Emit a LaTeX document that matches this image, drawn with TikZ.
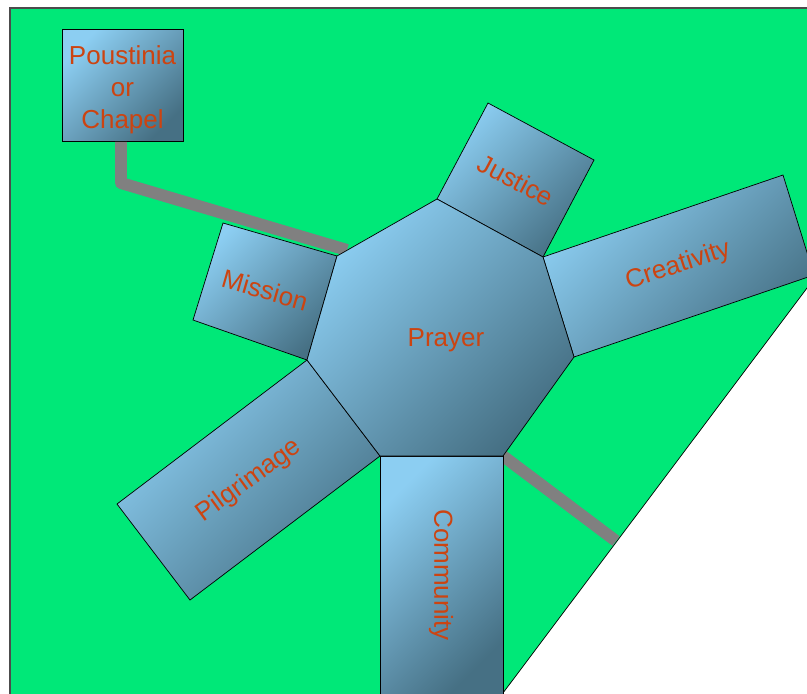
\documentclass[tikz,border=0pt]{standalone}
\usepackage{fontspec}
\setmainfont{Liberation Sans}
\usetikzlibrary{calc}

\definecolor{bggreen}{RGB}{0,232,120}
\definecolor{boxlight}{RGB}{140,206,242}
\definecolor{boxdark}{RGB}{70,112,132}
\definecolor{labelred}{RGB}{204,68,17}
\definecolor{linkgray}{RGB}{128,128,128}

\tikzset{
  panel/.style={draw=black, line width=0.5pt, top color=boxlight,
                bottom color=boxdark, shading angle=45},
  word/.style={text=labelred, font=\fontsize{18.5}{22.7}\selectfont},
  link/.style={draw=linkgray, line width=8.5pt, line join=round},
}

\begin{document}
\begin{tikzpicture}[x=0.025cm, y=-0.025cm]

    \useasboundingbox (0,0) rectangle (807,693);

    \begin{scope}
    \clip (0,0) rectangle (807,693);

    % green page
    \fill[bggreen] (10,8) -- (830,8) -- (830,257.4) -- (482.7,720) -- (10,720) -- cycle;
    \draw[gray!60!black, line width=1.2pt] (10,720) -- (10,8) -- (830,8);
    \draw[black, line width=0.5pt] (830,257.4) -- (482.7,720);

    % corners of the heptagon
    \coordinate (hT)  at (437,199);
    \coordinate (hUR) at (543,257);
    \coordinate (hR)  at (574,357);
    \coordinate (hLR) at (503,456);
    \coordinate (hLL) at (380,456);
    \coordinate (hL)  at (307,360);
    \coordinate (hUL) at (337,256);

    \node[panel, word, align=center, inner sep=0pt,
          minimum width=3.025cm, minimum height=2.8cm] (chapel) at (122.5,85.5)
          {\rule{0pt}{19pt}Poustinia\\or\\Chapel};

    \coordinate (bend)  at (121,183);
    \coordinate (linkA) at (347,250);
    \coordinate (linkB) at (616,541);

    \draw[link] (chapel.south -| bend) -- (bend) -- (linkA);
    \draw[link] (hLR) -- (linkB);

    % arms
    \path[panel] (hT) -- (488,103) -- (594,160) -- (hUR) -- cycle;
    \node[word, rotate=-28] (justice) at (516,180) {Justice};

    \path[panel] (hUR) -- (783,175) -- (814,275) -- (hR) -- cycle;
    \node[word, rotate=18] (creativity) at (678,266) {Creativity};

    \path[panel] (hL) -- (193,320) -- (223,223) -- (hUL) -- cycle;
    \node[word, rotate=-16] (mission) at (265,290) {Mission};

    \path[panel] (hLL) -- (190,600) -- (117,504) -- (hL) -- cycle;
    \node[word, rotate=36] (pilgrimage) at (249,481) {Pilgrimage};

    \path[panel] (hLR) -- (503,694) -- (380,694) -- (hLL) -- cycle;
    \node[word, rotate=-90] (community) at (441,575) {Community};

    % centre
    \path[panel] (hT) -- (hUR) -- (hR) -- (hLR) -- (hLL) -- (hL) -- (hUL) -- cycle;
    \node[word] (prayer) at (446,340) {Prayer};

    \end{scope}

\end{tikzpicture}
\end{document}
